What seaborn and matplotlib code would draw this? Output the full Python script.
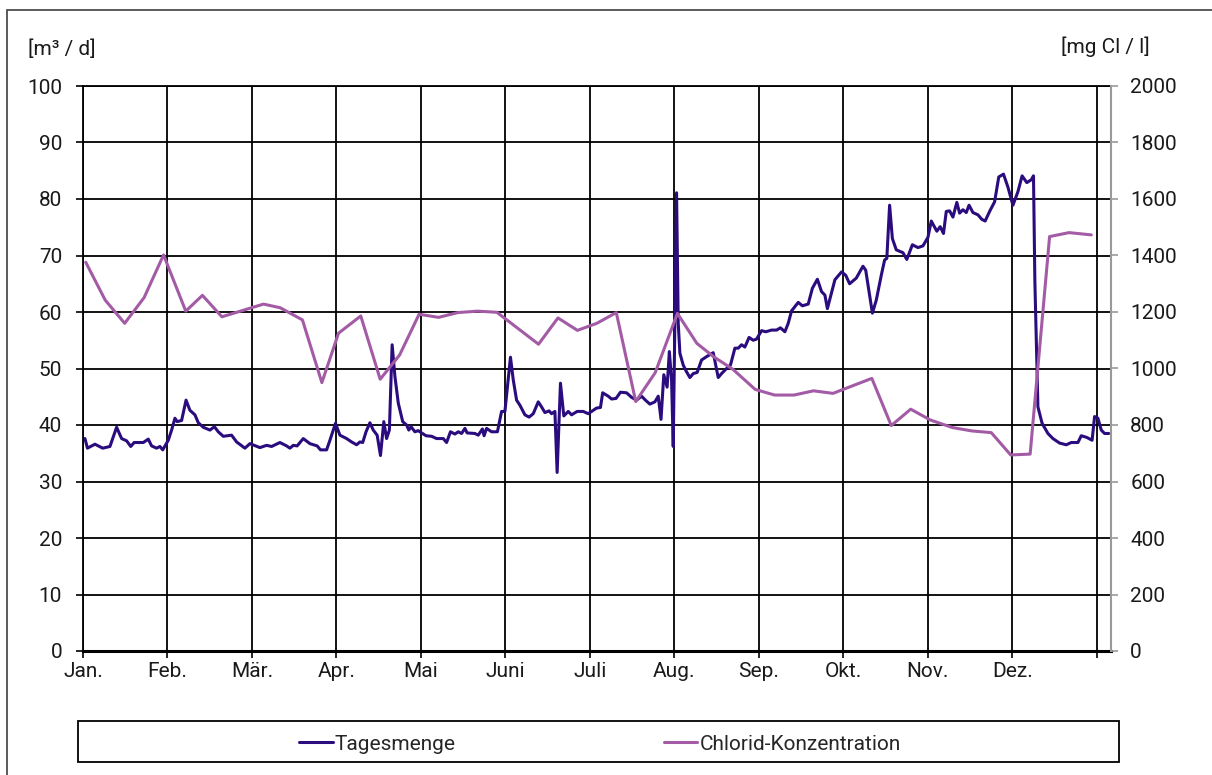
import numpy as np
import matplotlib
matplotlib.use('Agg')
import matplotlib.pyplot as plt
import seaborn as sns
from matplotlib.patches import Rectangle

# Monate (Tickbeschriftung)
monate = ['Jan.', 'Feb.', 'Mär.', 'Apr.', 'Mai', 'Juni', 'Juli',
          'Aug.', 'Sep.', 'Okt.', 'Nov.', 'Dez.']

# Tagesmenge [m3/d] - Tag im Jahr / Wert
tag_tage = [0.7, 1.6, 4.3, 7.1, 9.7, 12.1, 13.9, 15.7, 17.2, 18.4, 21.7, 23.5, 24.7, 26.5, 27.7, 28.7,
            30.7, 31.9, 33.1, 33.9, 35.5, 37.1, 38.5, 40.3, 41.5, 43.3, 45.7, 47.3, 48.7, 50.5, 53.5,
            55.3, 58.3, 60.1, 63.7, 66.1, 67.9, 70.9, 73.3, 74.5, 75.7, 77.1, 79.3, 81.7, 84.3, 85.5,
            87.7, 88.9, 90.9, 92.5, 94.9,
            96.7, 98.5, 99.7, 100.7, 101.9, 103.3, 104.5, 105.9, 107.1, 108.3, 109.3, 110.3, 111.3,
            112.3, 113.5, 115.1, 116.5, 117.3, 118.1, 119.5, 120.7, 121.9, 123.5, 125.5, 127.3, 129.7,
            130.9, 132.3, 133.9, 135.1, 136.3, 137.5, 138.3, 141.1, 142.3, 143.8, 144.4, 145.3, 147.1,
            149.2, 150.7, 151.9, 153.9, 154.9, 156.1, 157.3, 159.1, 160.6, 162.1, 163.9, 165.1, 166.3,
            167.8, 168.7, 169.9, 170.7, 171.9, 173.1, 174.7, 175.9, 177.9, 180.1, 181.9,
            184.9, 186.3, 187.1, 189.1, 190.3, 191.9, 193.5, 195.7, 197.5, 199.3, 201.1, 202.7, 204.1,
            205.9, 207.1, 208.1, 209.1, 210.3, 211.1, 211.9, 212.5, 213.7, 214.3, 214.9, 216.1, 217.3,
            218.5, 219.7, 221.1, 222.7, 224.5, 226.9, 228.7, 229.9, 231.7, 233.1, 234.7, 235.9, 237.1,
            238.3, 239.8, 241.3, 242.5, 244.3, 245.8, 247.9, 249.7, 251.1, 252.7, 253.9, 255.1, 257.5,
            259.0, 261.1, 262.6, 264.4, 265.9, 267.1, 268.0, 269.1, 270.7, 273.1, 274.6,
            276.0, 278.4, 280.8, 281.8, 284.2, 285.6, 287.4, 288.6, 289.4, 290.4, 291.4, 292.8, 295.2,
            296.6, 298.6, 300.6, 302.4, 304.2, 305.4, 307.4, 308.6, 309.8, 310.8, 312.0, 313.2, 314.6,
            315.6, 316.8, 318.0, 319.0, 320.4, 322.2, 323.6, 324.8, 326.4, 328.2, 329.7, 331.4, 333.0,
            334.8, 336.6, 338.1, 339.8, 341.4, 342.2, 342.7, 343.8, 345.3, 347.4, 349.2, 351.6, 354.0,
            355.8, 358.2, 359.4, 361.4, 363.3, 364.2, 365.4, 366.6, 367.8, 369.3]
tag_menge = [37.6, 35.9, 36.6, 35.9, 36.2, 39.6, 37.6, 37.2, 36.2, 36.9, 36.9, 37.5, 36.3, 35.9, 36.2, 35.6,
             37.3, 39.1, 41.2, 40.6, 40.8, 44.4, 42.6, 41.8, 40.4, 39.6, 39.1, 39.7, 38.8, 38.0, 38.2,
             37.0, 35.9, 36.7, 36.0, 36.4, 36.2, 36.9, 36.3, 35.9, 36.4, 36.3, 37.6, 36.7, 36.3, 35.6,
             35.6, 37.3, 40.3, 38.2, 37.6,
             37.0, 36.5, 37.0, 36.9, 38.8, 40.4, 39.1, 38.2, 34.6, 40.6, 37.6, 39.1, 54.2,
             48.6, 43.9, 40.6, 40.0, 39.1, 39.7, 38.8, 39.0, 38.6, 38.1, 38.0, 37.6, 37.6,
             36.9, 38.8, 38.4, 38.8, 38.5, 39.4, 38.6, 38.5, 38.2, 39.3, 38.1, 39.4, 38.8,
             38.8, 42.4, 42.4, 52.0, 48.0, 44.4, 43.5, 41.8, 41.4, 42.0, 44.1, 43.2, 42.2,
             42.5, 42.0, 42.4, 31.6, 47.4, 41.6, 42.4, 41.8, 42.4, 42.4, 42.0,
             43.0, 43.1, 45.7, 45.1, 44.6, 44.7, 45.8, 45.7, 44.9, 44.4, 45.1, 44.3, 43.7,
             44.1, 45.1, 41.0, 48.9, 46.7, 53.0, 48.0, 36.2, 81.1, 58.0, 52.7, 50.6, 49.4,
             48.4, 49.1, 49.3, 51.5, 52.1, 52.8, 48.4, 49.1, 50.0, 50.6, 53.6, 53.6, 54.2,
             53.8, 55.5, 55.0, 55.2, 56.7, 56.5, 56.8, 56.8, 57.2, 56.5, 58.0, 60.2, 61.7,
             61.1, 61.4, 64.2, 65.8, 63.6, 63.0, 60.6, 62.7, 65.7, 67.1, 66.5,
             65.0, 66.0, 68.1, 67.4, 59.8, 62.1, 66.5, 69.2, 69.5, 78.9, 73.0, 71.0, 70.5,
             69.3, 71.9, 71.4, 71.7, 73.2, 76.1, 74.3, 75.1, 73.9, 77.8, 77.9, 76.8, 79.4,
             77.5, 78.1, 77.6, 78.9, 77.6, 77.2, 76.4, 76.1, 77.8, 79.5, 83.9, 84.4, 82.1,
             78.9, 81.3, 84.1, 82.9, 83.4, 84.1, 65.4, 43.2, 40.3, 38.5, 37.6, 36.8, 36.5,
             36.9, 36.9, 38.1, 37.8, 37.3, 41.5, 41.2, 39.1, 38.5, 38.5]

# Chlorid-Konzentration [mg Cl/l] - Probenahmetage / Werte
cl_tage = [1, 8, 15, 22, 29, 37, 43, 50, 65, 71, 79, 86, 92, 100, 107, 114, 121, 128, 135, 142, 149,
           164, 171, 178, 185, 192, 199, 206, 214, 221, 227, 234, 242, 249, 256, 263, 270, 284, 291,
           298, 305, 313, 320, 327, 334, 341, 348, 355, 363]
cl_werte = [1376, 1242, 1160, 1251, 1402, 1203, 1259, 1183, 1228, 1215, 1172, 950, 1125, 1186, 962,
            1048, 1192, 1181, 1198, 1203, 1199, 1086, 1179, 1135, 1160, 1198, 883, 985, 1195, 1089,
            1042, 997, 926, 906, 906, 921, 912, 965, 798, 856, 818, 791, 779, 773, 694, 697, 1467,
            1481, 1473]

farbe_tag = '#2B0C7E'
farbe_cl = '#A35BA6'

sns.set_style('white')
plt.rcParams['font.family'] = ['Roboto', 'DejaVu Sans']

W, H = 1212, 775
fs = 15
fig = plt.figure(figsize=(W / 100, H / 100), dpi=100)
ax = fig.add_axes([83 / W, 1 - 651 / H, (1110.7 - 83) / W, (651 - 86) / H])
ax2 = ax.twinx()

sns.lineplot(x=tag_tage, y=tag_menge, ax=ax, color=farbe_tag, linewidth=2.2, legend=False)
sns.lineplot(x=cl_tage, y=cl_werte, ax=ax2, color=farbe_cl, linewidth=2.2, legend=False)

ax.set_xlim(0, 370)
ax.set_ylim(0, 100)
ax2.set_ylim(0, 2000)
ax.set_xticks(np.linspace(0, 365, 13))
ax.set_xticklabels(monate + [''])
ax.set_yticks(range(0, 101, 10))
ax2.set_yticks(range(0, 2001, 200))
ax.set_xlabel('')
ax.set_ylabel('')
ax2.set_ylabel('')

ax.grid(True, color='black', linewidth=1.3)
ax.tick_params(axis='both', direction='out', length=5, width=1.2, color='black',
               labelsize=fs, labelcolor='#1a1a1a', bottom=True, left=True)
ax.tick_params(axis='y', pad=10)
ax.tick_params(axis='x', pad=3)
ax2.tick_params(axis='y', direction='out', length=5, width=1.2, color='#999999',
                labelsize=fs, labelcolor='#1a1a1a', right=True, pad=9)

ax.spines['right'].set_visible(False)
for s in ['left', 'top']:
    ax.spines[s].set_color('black')
    ax.spines[s].set_linewidth(1.3)
ax.spines['bottom'].set_color('black')
ax.spines['bottom'].set_linewidth(2.2)
for s in ['left', 'top', 'bottom']:
    ax2.spines[s].set_visible(False)
ax2.spines['right'].set_color('#999999')
ax2.spines['right'].set_linewidth(1.5)

# Einheiten
fig.text(28 / W, 1 - 49 / H, '[m³ / d]', ha='left', va='center', fontsize=fs, color='#1a1a1a')
fig.text(1150 / W, 1 - 47 / H, '[mg Cl / l]', ha='right', va='center', fontsize=fs, color='#1a1a1a')

# Rahmen um die Grafik und Legendenbox
fig.add_artist(Rectangle((7 / W, -0.1), 1.2, 1 - 10 / H + 0.1, transform=fig.transFigure,
                         fill=False, edgecolor='#404040', linewidth=1.2))
fig.add_artist(Rectangle((78 / W, 1 - 762 / H), (1119 - 78) / W, 41 / H, transform=fig.transFigure,
                         fill=False, edgecolor='black', linewidth=1.3))

handles = [ax.get_lines()[0], ax2.get_lines()[0]]
fig.legend(handles, ['Tagesmenge', 'Chlorid-Konzentration'], loc='center',
           bbox_to_anchor=(600 / W, 1 - 744 / H), ncol=2, frameon=False, fontsize=fs,
           handlelength=1.6, handletextpad=0.1, columnspacing=10)

fig.savefig('out.png', dpi=100)
